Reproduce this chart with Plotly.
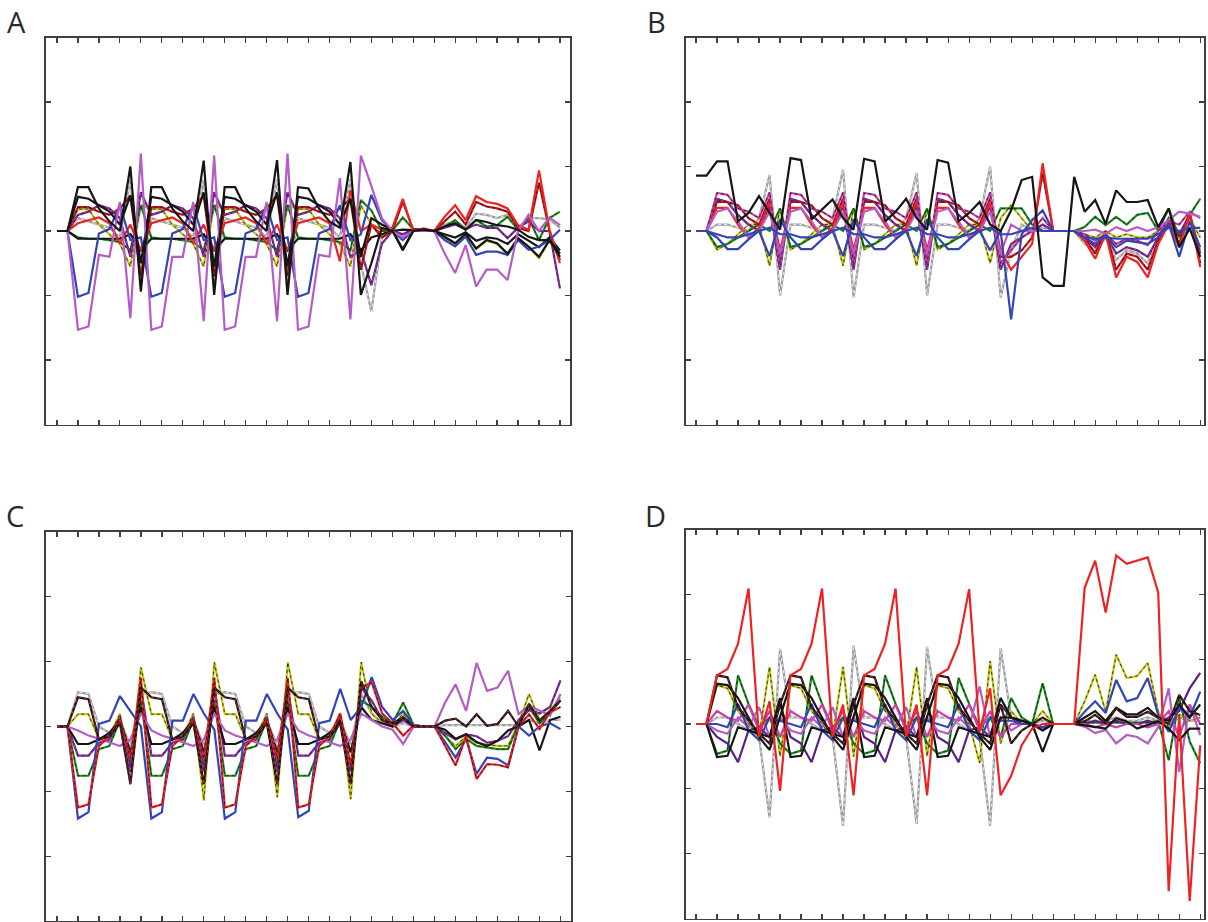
import plotly.graph_objects as go

# ---------------- data ----------------
X_POS = [1.0, 1.5, 2.0, 2.5, 3.0, 3.5, 4.0, 4.5, 5.0, 5.5, 6.0, 6.5, 7.0, 7.5, 8.0, 8.5,
         9.0, 9.5, 10.0, 10.5, 11.0, 11.5, 12.0, 12.5, 13.0, 13.5, 14.0, 14.5, 15.0, 15.5,
         16.0, 16.5, 17.0, 17.5, 18.0, 18.5, 19.0, 19.5, 20.0, 20.5, 21.0, 21.5, 22.0, 22.5,
         23.0, 23.5, 24.0, 24.5, 25.0]
TICKS_X = [1, 2, 3, 4, 5, 6, 7, 8, 9, 10, 11, 12, 13, 14, 15, 16, 17, 18, 19, 20, 21, 22, 23, 24, 25]
TICKS_Y = [-2, -1, 0, 1, 2]
PANEL_LABELS = ["A", "B", "C", "D"]

# Panel A
A_K1 = [0, 0,
        0.68, 0.68, 0.35, 0.15, 0.00, 1.00, -0.94,
        0.68, 0.68, 0.35, 0.15, 0.00, 1.09, -0.99,
        0.68, 0.68, 0.35, 0.15, 0.00, 1.10, -0.99,
        0.68, 0.66, 0.35, 0.15, 0.05, 1.07, -0.99,
        -0.50, 0.05, 0.00, -0.28, 0.00, 0.02, 0.00, 0.07, 0.12, 0.02, 0.17, 0.14, 0.09, 0.07, 0.02, -0.09, -0.14, -0.14, -0.35]
A_K2 = [0, 0,
        0.53, 0.50, 0.40, 0.30, 0.10, 0.55, -0.50,
        0.53, 0.50, 0.40, 0.30, 0.10, 0.60, -0.55,
        0.53, 0.50, 0.40, 0.30, 0.10, 0.60, -0.55,
        0.53, 0.50, 0.40, 0.30, 0.10, 0.50, -0.40,
        0.20, 0.10, 0.02, -0.30, 0.00, 0.02, 0.00, -0.09, -0.19, -0.04, -0.27, -0.14, -0.19, -0.35, -0.11, -0.24, -0.40, -0.14, -0.40]
A_KL = [0, 0,
        -0.12, -0.12, -0.12, -0.12, -0.12, -0.05, -0.30,
        -0.12, -0.12, -0.12, -0.12, -0.12, -0.05, -0.30,
        -0.12, -0.12, -0.12, -0.12, -0.12, -0.05, -0.30,
        -0.12, -0.12, -0.12, -0.12, -0.12, -0.05, -0.30,
        -0.10, -0.05, 0.00, 0.02, 0.02, 0.01, 0.00, -0.05, -0.10, -0.02, -0.15, -0.10, -0.12, -0.20, -0.05, -0.15, -0.25, -0.10, -0.30]
A_DR = [0, 0,
        0.37, 0.37, 0.30, 0.25, 0.35, 0.55, -0.70,
        0.37, 0.37, 0.30, 0.25, 0.35, 0.55, -0.70,
        0.37, 0.37, 0.30, 0.25, 0.35, 0.55, -0.70,
        0.37, 0.37, 0.30, 0.25, 0.35, 0.50, -0.60,
        0.10, -0.10, 0.00, 0.45, 0.02, 0.02, 0.00, 0.15, 0.30, 0.10, 0.45, 0.38, 0.35, 0.30, 0.05, 0.00, 0.75, 0.00, -0.45]
A_Y = [0, 0,
       0.34, 0.34, 0.10, -0.05, -0.20, -0.55, 0.40,
       0.34, 0.34, 0.10, -0.05, -0.20, -0.55, 0.40,
       0.34, 0.34, 0.10, -0.05, -0.20, -0.55, 0.40,
       0.34, 0.34, 0.10, -0.05, -0.20, -0.55, 0.40,
       0.10, -0.05, 0.02, -0.30, 0.00, 0.02, 0.00, -0.10, -0.20, -0.05, -0.28, -0.15, -0.20, -0.37, -0.12, -0.25, -0.42, -0.15, -0.42]
A_G = [0, 0,
       -0.10, -0.12, -0.12, -0.15, -0.17, -0.30, 0.40,
       -0.10, -0.12, -0.12, -0.15, -0.17, -0.30, 0.40,
       -0.10, -0.12, -0.12, -0.15, -0.17, -0.30, 0.40,
       -0.10, -0.12, -0.12, -0.15, -0.17, -0.30, 0.48,
       0.32, 0.00, 0.00, 0.21, 0.03, 0.03, 0.00, 0.07, 0.17, 0.02, 0.17, 0.07, 0.09, 0.22, 0.02, 0.20, -0.14, 0.20, 0.30]
A_B = [0, 0,
       -1.02, -0.96, -0.04, 0.03, 0.40, -0.14, -0.10,
       -1.02, -0.96, -0.04, 0.03, 0.40, -0.14, -0.10,
       -1.02, -0.96, -0.04, 0.03, 0.40, -0.14, -0.10,
       -1.02, -0.96, -0.04, 0.03, 0.40, -0.14, -0.05,
       0.56, 0.17, 0.00, -0.14, 0.00, 0.00, 0.00, -0.14, -0.24, -0.09, -0.37, -0.32, -0.32, -0.37, -0.14, -0.29, -0.24, -0.14, 0.02]
A_P = [0, 0,
       -1.53, -1.48, -0.37, -0.40, 0.45, -1.35, 1.20,
       -1.53, -1.48, -0.40, -0.40, 0.45, -1.40, 1.17,
       -1.53, -1.48, -0.40, -0.40, 0.45, -1.40, 1.20,
       -1.53, -1.48, -0.37, -0.40, 0.82, -1.37, 1.17,
       0.70, 0.20, 0.00, -0.10, 0.00, 0.01, 0.00, -0.35, -0.65, -0.22, -0.86, -0.60, -0.60, -0.76, 0.00, 0.25, 0.00, 0.21, 0.09]
A_R = [0, 0,
       0.12, 0.17, 0.21, 0.12, -0.19, 0.10, -0.30,
       0.12, 0.17, 0.21, 0.12, -0.19, 0.10, -0.30,
       0.12, 0.17, 0.21, 0.12, -0.19, 0.10, -0.30,
       0.12, 0.17, 0.21, 0.12, -0.47, 0.63, 0.00,
       0.10, 0.02, 0.05, 0.50, 0.00, 0.04, 0.00, 0.22, 0.40, 0.17, 0.54, 0.45, 0.42, 0.35, 0.09, 0.02, 0.94, 0.02, -0.50]
A_GR = [0, 0,
        0.20, 0.15, 0.10, 0.05, -0.10, 0.80, -0.80,
        0.20, 0.15, 0.10, 0.05, -0.10, 0.80, -0.80,
        0.20, 0.15, 0.10, 0.05, -0.10, 0.80, -0.80,
        0.20, 0.15, 0.10, 0.05, -0.10, 0.80, -0.50,
        -1.25, -0.10, 0.00, -0.05, 0.02, 0.02, 0.00, 0.10, 0.15, 0.05, 0.27, 0.25, 0.20, 0.25, 0.05, 0.20, 0.20, 0.18, 0.05]
A_DP = [0, 0,
        0.25, 0.30, 0.40, 0.35, 0.20, -0.40, 0.60,
        0.25, 0.30, 0.40, 0.35, 0.20, -0.40, 0.60,
        0.25, 0.30, 0.40, 0.35, 0.20, -0.40, 0.60,
        0.25, 0.30, 0.40, 0.35, 0.20, -0.40, -0.30,
        -0.84, -0.20, 0.00, -0.05, 0.02, 0.02, 0.00, 0.05, 0.10, 0.03, 0.10, 0.05, 0.05, -0.11, 0.05, 0.15, 0.00, 0.00, -0.89]

# Panel B
B_K1 = [0.86, 0.86,
        1.08, 1.08, 0.15, 0.28, 0.54, 0.28, 0.02,
        1.13, 1.10, 0.18, 0.33, 0.49, 0.20, 0.02,
        1.12, 1.08, 0.15, 0.30, 0.50, 0.20, 0.02,
        1.10, 1.06, 0.15, 0.28, 0.45, 0.10, 0.00,
        0.32, 0.79, 0.84, -0.72, -0.85, -0.85, 0.84, 0.30, 0.48, 0.11, 0.63, 0.45, 0.45, 0.48, 0.06, 0.35, -0.25, 0.04, -0.40]
B_GR = [0, 0,
        0.10, 0.10, 0.05, 0.00, 0.20, 0.87, -1.00,
        0.10, 0.10, 0.05, 0.00, 0.20, 0.95, -1.03,
        0.10, 0.10, 0.05, 0.00, 0.20, 0.90, -1.00,
        0.10, 0.10, 0.05, 0.00, 0.20, 1.00, -1.03,
        -0.30, 0.10, 0.00, 0.05, 0.00, 0.00, 0.00, -0.20, -0.30, -0.10, -0.45, -0.30, -0.35, -0.50, -0.10, 0.10, -0.10, 0.20, -0.30]
B_B = [0, 0,
       -0.10, -0.28, -0.28, -0.13, 0.00, -0.39, 0.18,
       -0.10, -0.28, -0.28, -0.13, 0.00, -0.39, 0.18,
       -0.10, -0.28, -0.28, -0.13, 0.00, -0.39, 0.18,
       -0.10, -0.28, -0.28, -0.13, 0.00, -0.30, 0.00,
       -1.37, -0.05, 0.17, 0.32, 0.00, 0.00, 0.00, -0.10, -0.20, -0.07, -0.25, -0.15, -0.17, -0.20, -0.10, 0.11, -0.40, 0.15, -0.25]
B_B2 = [0, 0,
        -0.05, -0.10, -0.10, -0.05, 0.00, 0.05, -0.05,
        -0.05, -0.10, -0.10, -0.05, 0.00, 0.05, -0.05,
        -0.05, -0.10, -0.10, -0.05, 0.00, 0.05, -0.05,
        -0.05, -0.10, -0.10, -0.05, 0.00, 0.05, -0.05,
        -0.05, 0.00, 0.05, 0.00, 0.00, 0.00, 0.00, -0.10, -0.12, -0.10, -0.12, -0.12, -0.12, -0.12, -0.05, 0.05, 0.00, 0.05, 0.05]
B_MG = [0, 0,
        0.59, 0.56, 0.35, 0.30, 0.20, 0.60, -0.50,
        0.59, 0.56, 0.35, 0.30, 0.20, 0.60, -0.50,
        0.59, 0.56, 0.35, 0.30, 0.20, 0.60, -0.50,
        0.59, 0.56, 0.35, 0.30, 0.20, 0.60, -0.50,
        -0.30, -0.10, 0.00, 0.20, 0.00, 0.00, 0.00, -0.05, -0.15, -0.05, -0.20, -0.12, -0.15, -0.22, 0.00, 0.15, 0.10, 0.30, 0.20]
B_DR = [0, 0,
        0.45, 0.45, 0.40, 0.20, 0.10, 0.50, -0.40,
        0.45, 0.45, 0.40, 0.20, 0.10, 0.50, -0.40,
        0.45, 0.45, 0.40, 0.20, 0.10, 0.50, -0.40,
        0.45, 0.45, 0.40, 0.20, 0.10, 0.50, -0.40,
        -0.40, -0.30, -0.10, 0.90, 0.00, 0.00, 0.00, -0.10, -0.35, 0.00, -0.60, -0.35, -0.40, -0.60, -0.15, 0.15, -0.20, 0.30, -0.50]
B_R = [0, 0,
       0.36, 0.36, 0.10, -0.10, 0.05, 0.45, -0.30,
       0.36, 0.36, 0.10, -0.10, 0.05, 0.45, -0.30,
       0.36, 0.36, 0.10, -0.10, 0.05, 0.45, -0.30,
       0.36, 0.36, 0.10, -0.10, 0.05, 0.45, -0.30,
       -0.60, -0.40, -0.20, 1.05, 0.00, 0.00, 0.00, -0.15, -0.43, -0.04, -0.72, -0.40, -0.48, -0.72, -0.20, 0.11, -0.25, 0.27, -0.56]
B_Y = [0, 0,
       -0.29, -0.20, -0.05, 0.10, 0.10, -0.54, 0.35,
       -0.29, -0.20, -0.05, 0.10, 0.10, -0.54, 0.35,
       -0.29, -0.20, -0.05, 0.10, 0.10, -0.54, 0.35,
       -0.29, -0.20, -0.05, 0.10, 0.10, -0.50, 0.20,
       0.40, 0.20, 0.00, 0.00, 0.00, 0.00, 0.00, -0.05, -0.10, 0.00, -0.10, -0.05, -0.10, -0.10, 0.00, 0.10, -0.10, 0.20, -0.10]
B_G = [0, 0,
       -0.25, -0.20, -0.10, 0.00, 0.10, 0.00, 0.35,
       -0.25, -0.20, -0.10, 0.00, 0.10, 0.00, 0.35,
       -0.25, -0.20, -0.10, 0.00, 0.10, 0.00, 0.35,
       -0.25, -0.20, -0.10, 0.00, 0.10, 0.00, 0.35,
       0.35, 0.35, 0.10, 0.00, 0.00, 0.00, 0.00, 0.06, 0.22, 0.09, 0.22, 0.10, 0.25, 0.28, 0.00, 0.35, -0.10, 0.25, 0.50]
B_P = [0, 0,
       0.30, 0.35, 0.15, -0.10, 0.00, 0.30, -0.35,
       0.30, 0.35, 0.15, -0.10, 0.00, 0.30, -0.35,
       0.30, 0.35, 0.15, -0.10, 0.00, 0.30, -0.35,
       0.30, 0.35, 0.15, -0.10, 0.00, 0.30, -0.35,
       0.10, 0.00, 0.00, 0.00, 0.00, 0.00, 0.00, 0.00, 0.02, -0.04, 0.06, 0.00, 0.06, 0.00, 0.06, 0.17, 0.30, 0.27, 0.22]
B_DP = [0, 0,
        0.50, 0.45, 0.25, 0.10, 0.00, 0.40, -0.60,
        0.50, 0.45, 0.25, 0.10, 0.00, 0.40, -0.60,
        0.50, 0.45, 0.25, 0.10, 0.00, 0.40, -0.60,
        0.50, 0.45, 0.25, 0.10, 0.00, 0.40, -0.60,
        -0.20, -0.10, 0.00, 0.10, 0.00, 0.00, 0.00, -0.10, -0.25, -0.05, -0.35, -0.25, -0.30, -0.40, -0.10, 0.20, -0.05, 0.25, -0.35]

# Panel C
C_B = [0, 0,
       -1.42, -1.32, 0.04, 0.09, 0.47, 0.24, 0.00,
       -1.42, -1.32, 0.09, 0.09, 0.50, 0.20, -0.05,
       -1.42, -1.32, 0.09, 0.09, 0.50, 0.20, -0.05,
       -1.40, -1.30, 0.05, 0.09, 0.58, 0.10, 0.30,
       0.76, 0.30, 0.10, 0.24, 0.02, 0.00, 0.00, -0.24, -0.48, -0.19, -0.73, -0.48, -0.50, -0.60, 0.00, -0.14, 0.00, 0.05, -0.04]
C_R = [0, 0,
       -1.25, -1.20, -0.30, -0.15, 0.10, -0.50, 0.75,
       -1.25, -1.20, -0.30, -0.15, 0.10, -0.50, 0.75,
       -1.25, -1.20, -0.30, -0.15, 0.10, -0.50, 0.75,
       -1.25, -1.20, -0.30, -0.15, 0.20, -0.60, 0.60,
       0.68, 0.20, 0.05, -0.14, 0.02, 0.00, 0.00, -0.30, -0.60, -0.15, -0.81, -0.58, -0.59, -0.63, 0.00, 0.19, -0.04, 0.22, 0.30]
C_K1 = [0, 0,
        0.45, 0.42, -0.20, -0.15, 0.05, -0.89, 0.60,
        0.45, 0.42, -0.20, -0.15, 0.05, -0.89, 0.60,
        0.45, 0.42, -0.20, -0.15, 0.05, -0.89, 0.60,
        0.45, 0.42, -0.20, -0.15, 0.05, -0.89, 0.70,
        0.30, 0.10, 0.05, 0.14, 0.00, 0.00, 0.00, 0.09, 0.12, 0.00, 0.19, 0.01, 0.04, 0.24, 0.00, 0.35, 0.09, 0.24, 0.40]
C_GR = [0, 0,
        0.53, 0.50, 0.00, -0.10, 0.10, -0.30, 0.50,
        0.53, 0.50, 0.00, -0.10, 0.10, -0.30, 0.50,
        0.53, 0.50, 0.00, -0.10, 0.10, -0.30, 0.50,
        0.53, 0.50, 0.00, -0.10, 0.10, -0.30, 0.50,
        0.20, 0.05, 0.00, 0.05, 0.00, 0.00, 0.00, 0.02, 0.02, 0.02, 0.02, 0.02, 0.02, 0.02, 0.02, 0.10, 0.05, 0.10, 0.10]
C_Y = [0, 0,
       0.19, 0.19, -0.20, -0.15, 0.20, -0.70, 0.91,
       0.19, 0.19, -0.20, -0.15, 0.20, -1.14, 0.99,
       0.19, 0.19, -0.20, -0.15, 0.20, -1.09, 0.99,
       0.19, 0.19, -0.20, -0.15, 0.20, -1.12, 0.99,
       0.20, 0.05, 0.00, 0.20, 0.00, 0.00, 0.00, -0.15, -0.30, -0.15, -0.25, -0.28, -0.30, -0.30, 0.05, 0.50, 0.10, 0.25, 0.45]
C_G = [0, 0,
       -0.76, -0.76, -0.35, -0.30, 0.10, -0.60, 0.40,
       -0.76, -0.76, -0.35, -0.30, 0.10, -0.60, 0.40,
       -0.76, -0.76, -0.35, -0.30, 0.10, -0.60, 0.40,
       -0.76, -0.76, -0.35, -0.30, 0.10, -0.60, 0.40,
       0.30, 0.15, 0.05, 0.37, 0.02, 0.00, 0.00, -0.14, -0.35, -0.19, -0.30, -0.32, -0.35, -0.35, 0.04, 0.30, 0.05, 0.20, 0.40]
C_DP = [0, 0,
        -0.45, -0.45, -0.25, -0.20, 0.15, -0.70, 0.60,
        -0.45, -0.45, -0.25, -0.20, 0.15, -0.70, 0.60,
        -0.45, -0.45, -0.25, -0.20, 0.15, -0.70, 0.60,
        -0.45, -0.45, -0.25, -0.20, 0.15, -0.70, 0.60,
        0.40, 0.10, 0.00, 0.10, 0.00, 0.00, 0.00, -0.10, -0.20, -0.12, -0.15, -0.25, -0.22, -0.15, 0.10, 0.25, 0.20, 0.30, 0.71]
C_K2 = [0, 0,
        -0.27, -0.27, -0.20, -0.10, 0.10, -0.40, 0.30,
        -0.27, -0.27, -0.20, -0.10, 0.10, -0.40, 0.30,
        -0.27, -0.27, -0.20, -0.10, 0.10, -0.40, 0.30,
        -0.27, -0.27, -0.20, -0.10, 0.10, -0.40, 0.30,
        0.10, 0.05, 0.00, 0.14, 0.00, 0.00, 0.00, -0.05, -0.19, -0.12, -0.24, -0.30, -0.22, -0.06, 0.00, 0.10, -0.37, 0.10, 0.15]
C_P = [0, 0,
       -0.06, -0.14, -0.19, -0.25, -0.30, -0.20, 0.20,
       -0.06, -0.14, -0.19, -0.25, -0.30, -0.20, 0.20,
       -0.06, -0.14, -0.19, -0.25, -0.30, -0.20, 0.20,
       -0.06, -0.14, -0.19, -0.25, -0.30, -0.20, 0.20,
       0.10, 0.00, -0.05, -0.27, 0.00, 0.00, 0.00, 0.37, 0.65, 0.24, 0.98, 0.55, 0.60, 0.86, 0.19, 0.32, 0.24, 0.17, 0.50]

# Panel D
D_R = [0, 0,
       0.75, 0.85, 1.24, 2.09, -0.20, 0.35, -1.03,
       0.75, 0.85, 1.24, 2.09, -0.20, 0.30, -1.10,
       0.75, 0.85, 1.24, 2.09, -0.20, 0.30, -1.10,
       0.75, 0.85, 1.24, 2.08, -0.12, 0.55, -1.10,
       -0.80, -0.33, -0.07, 0.00, 0.00, 0.00, 0.00, 2.10, 2.52, 1.72, 2.60, 2.47, 2.52, 2.57, 2.03, -2.58, 0.14, -2.73, -0.33]
D_K1 = [0, 0,
        0.75, 0.72, 0.26, 0.05, -0.15, -0.30, 0.30,
        0.75, 0.72, 0.26, 0.05, -0.15, -0.30, 0.30,
        0.75, 0.72, 0.26, 0.05, -0.15, -0.30, 0.30,
        0.75, 0.72, 0.26, 0.05, -0.15, -0.30, 0.30,
        -0.30, -0.10, 0.00, 0.10, 0.00, 0.00, 0.00, 0.04, 0.14, 0.01, 0.24, 0.11, 0.11, 0.19, 0.10, 0.00, 0.45, 0.20, 0.14]
D_K2 = [0, 0,
        0.62, 0.60, 0.40, 0.10, -0.20, -0.40, 0.10,
        0.62, 0.60, 0.40, 0.10, -0.20, -0.40, 0.10,
        0.62, 0.60, 0.40, 0.10, -0.20, -0.40, 0.10,
        0.62, 0.60, 0.40, 0.10, -0.20, -0.40, 0.10,
        0.10, 0.05, 0.00, -0.10, 0.00, 0.00, 0.00, 0.10, 0.20, 0.05, 0.25, 0.15, 0.15, 0.25, 0.10, 0.05, 0.30, 0.10, 0.30]
D_G = [0, 0,
       -0.46, -0.41, 0.75, 0.31, -0.05, 0.10, -0.30,
       -0.46, -0.41, 0.75, 0.31, -0.05, 0.10, -0.30,
       -0.46, -0.41, 0.75, 0.31, -0.05, 0.10, -0.30,
       -0.46, -0.41, 0.71, 0.31, -0.05, 0.10, -0.20,
       0.40, 0.10, 0.00, 0.63, 0.00, 0.00, 0.00, 0.02, 0.02, 0.02, 0.02, 0.02, 0.02, 0.02, 0.05, -0.56, 0.40, -0.27, -0.61]
D_KL = [0, 0,
        -0.51, -0.49, -0.05, -0.10, -0.15, -0.20, 0.40,
        -0.51, -0.49, -0.05, -0.10, -0.15, -0.20, 0.40,
        -0.51, -0.49, -0.05, -0.10, -0.15, -0.20, 0.40,
        -0.51, -0.49, -0.05, -0.10, -0.15, -0.20, 0.40,
        0.10, 0.05, 0.00, -0.43, 0.00, 0.00, 0.00, -0.02, -0.04, -0.07, 0.09, 0.04, -0.07, -0.02, 0.04, -0.07, -0.25, -0.07, -0.07]
D_DP = [0, 0,
        -0.20, -0.30, -0.59, -0.10, -0.05, -0.20, 0.30,
        -0.20, -0.30, -0.59, -0.10, -0.05, -0.20, 0.30,
        -0.20, -0.30, -0.59, -0.10, -0.05, -0.20, 0.30,
        -0.20, -0.30, -0.59, -0.10, -0.05, -0.20, 0.30,
        0.10, 0.00, 0.00, -0.05, 0.00, 0.00, 0.00, 0.00, 0.05, 0.00, 0.05, 0.00, 0.00, 0.05, 0.00, 0.10, 0.20, 0.55, 0.79]
D_Y = [0, 0,
       0.60, 0.55, 0.20, 0.00, -0.20, 0.88, -0.50,
       0.60, 0.55, 0.20, 0.00, -0.20, 0.88, -0.50,
       0.60, 0.55, 0.20, 0.00, -0.20, 0.88, -0.50,
       0.60, 0.55, 0.20, 0.00, -0.60, 0.97, -0.30,
       0.20, 0.00, 0.00, 0.20, 0.00, 0.00, 0.00, 0.35, 0.76, 0.19, 1.07, 0.71, 0.74, 0.94, 0.19, -0.05, 0.15, 0.05, 0.10]
D_GR = [0, 0,
        0.10, 0.10, 0.00, -0.10, -0.20, -1.44, 1.16,
        0.10, 0.10, 0.00, -0.10, -0.20, -1.57, 1.21,
        0.10, 0.10, 0.00, -0.10, -0.20, -1.54, 1.19,
        0.10, 0.10, 0.00, -0.10, -0.20, -1.57, 1.17,
        0.10, 0.00, 0.00, 0.05, 0.00, 0.00, 0.00, 0.05, 0.05, 0.05, 0.10, 0.05, 0.05, 0.10, 0.05, 0.00, 0.10, 0.05, 0.05]
D_B = [0, 0,
       0.00, -0.05, 0.31, -0.10, -0.25, 0.10, 0.05,
       0.00, -0.05, 0.31, -0.10, -0.25, 0.10, 0.05,
       0.00, -0.05, 0.31, -0.10, -0.25, 0.10, 0.05,
       0.00, -0.05, 0.31, -0.10, -0.25, 0.10, 0.05,
       0.05, 0.00, 0.00, -0.05, 0.00, 0.00, 0.00, 0.19, 0.35, 0.17, 0.68, 0.35, 0.40, 0.71, 0.14, -0.12, 0.25, 0.10, 0.50]
D_P = [0, 0,
       -0.10, -0.15, 0.10, -0.05, 0.26, -0.20, 0.10,
       -0.10, -0.15, 0.10, -0.05, 0.26, -0.20, 0.10,
       -0.10, -0.15, 0.10, -0.05, 0.26, -0.20, 0.10,
       -0.10, -0.15, 0.10, -0.05, 0.58, -0.20, 0.10,
       -0.10, 0.00, 0.00, -0.05, 0.00, 0.00, 0.00, -0.04, -0.14, -0.09, -0.30, -0.17, -0.20, -0.30, -0.05, 0.55, -0.74, 0.30, -0.17]
D_MG = [0, 0,
        0.20, 0.10, 0.05, 0.30, -0.10, 0.20, -0.20,
        0.20, 0.10, 0.05, 0.30, -0.10, 0.20, -0.20,
        0.20, 0.10, 0.05, 0.30, -0.10, 0.20, -0.20,
        0.20, 0.10, 0.05, 0.30, -0.10, 0.20, -0.20,
        0.00, 0.00, 0.00, -0.10, 0.00, 0.00, 0.00, 0.00, -0.05, 0.00, -0.05, 0.00, 0.00, -0.05, 0.00, 0.20, -0.20, 0.30, 0.00]

# ---------------- styles ----------------
COL = {
    "black": "#151515", "red": "#ee2222", "blue": "#3344b8", "green": "#1f8c22",
    "violet": "#b65cc6", "yellow": "#c8c81c", "gray": "#9c9c9c", "dpurple": "#5e1f80",
    "dred": "#c01818", "magenta": "#cc3fa8",
}
# (values, base colour, overlay dash colour or None)
PANELS = [
    ("x", "y", [(A_GR, "gray", "#ffffff"), (A_Y, "yellow", "#151515"), (A_G, "green", "#151515"),
                (A_DP, "dpurple", "#cc3fa8"), (A_KL, "black", None), (A_DR, "dred", "#151515"),
                (A_R, "red", None), (A_B, "blue", None), (A_K2, "black", None),
                (A_P, "violet", None), (A_K1, "black", None)]),
    ("x2", "y2", [(B_GR, "gray", "#ffffff"), (B_Y, "yellow", "#151515"), (B_G, "green", "#151515"),
                  (B_DP, "dpurple", "#cc3fa8"), (B_DR, "dred", "#151515"), (B_R, "red", None),
                  (B_MG, "magenta", "#151515"), (B_P, "violet", None), (B_B2, "blue", None),
                  (B_B, "blue", None), (B_K1, "black", None)]),
    ("x3", "y3", [(C_GR, "gray", "#ffffff"), (C_Y, "yellow", "#151515"), (C_G, "green", "#151515"),
                  (C_DP, "dpurple", "#cc3fa8"), (C_K2, "black", None), (C_P, "violet", None),
                  (C_B, "blue", None), (C_R, "red", "#151515"), (C_K1, "black", "#ee2222")]),
    ("x4", "y4", [(D_GR, "gray", "#ffffff"), (D_Y, "yellow", "#151515"), (D_G, "green", "#151515"),
                  (D_DP, "dpurple", None), (D_MG, "magenta", None), (D_P, "violet", None),
                  (D_B, "blue", None), (D_KL, "black", None), (D_K2, "black", None),
                  (D_K1, "black", "#ee2222"), (D_R, "red", None)]),
]

fig = go.Figure()
for xa, ya, series in PANELS:
    for vals, cname, ov in series:
        if len(vals) != len(X_POS):
            raise ValueError("bad length %d" % len(vals))
        fig.add_trace(go.Scatter(x=X_POS, y=vals, mode="lines", xaxis=xa, yaxis=ya,
                                 line=dict(color=COL[cname], width=2.2),
                                 hoverinfo="skip", showlegend=False))
        if ov:
            fig.add_trace(go.Scatter(x=X_POS, y=vals, mode="lines", xaxis=xa, yaxis=ya,
                                     line=dict(color=ov, width=1.0, dash="3px,3px"),
                                     opacity=0.8, hoverinfo="skip", showlegend=False))

W, H = 1208, 922
def xdom(l, r):
    return [l / W, r / W]
def ydom(t, b):
    return [1 - b / H, 1 - t / H]

axis_common = dict(showline=True, linecolor="#404040", linewidth=1.6, mirror="ticks",
                   ticks="inside", ticklen=5, tickwidth=1.2, tickcolor="#404040",
                   showticklabels=False, showgrid=False, zeroline=False)

layout = dict(width=W, height=H, margin=dict(l=0, r=0, t=0, b=0),
              paper_bgcolor="white", plot_bgcolor="white", showlegend=False,
              hovermode=False)

geo = [  # x-domain px, y-domain px, x range
    ((46, 570), (37.5, 424.5), [0.475, 25.48]),
    ((686, 1204), (37.5, 424.5), [0.524, 25.18]),
    ((46, 571), (532, 921), [0.475, 25.5]),
    ((686, 1204), (529.5, 918.5), [0.524, 25.18]),
]
for k, ((xl, xr), (yt, yb), xr_rng) in enumerate(geo):
    sfx = "" if k == 0 else str(k + 1)
    layout["xaxis" + sfx] = dict(axis_common, domain=xdom(xl, xr), range=xr_rng,
                                 tickmode="array", tickvals=TICKS_X,
                                 anchor="y" + sfx)
    layout["yaxis" + sfx] = dict(axis_common, domain=ydom(yt, yb), range=[-3, 3],
                                 tickmode="array", tickvals=TICKS_Y,
                                 anchor="x" + sfx)

label_pos = [(16, 21), (656, 21), (15, 515), (655, 515)]
layout["annotations"] = [
    dict(text=lab, x=px / W, y=1 - py / H, xref="paper", yref="paper",
         xanchor="center", yanchor="middle", showarrow=False,
         font=dict(family="Open Sans, Noto Sans, sans-serif", size=29, color="#2a2a2a"))
    for lab, (px, py) in zip(PANEL_LABELS, label_pos)
]

fig.update_layout(**layout)
fig.write_html("out.html", config={"displayModeBar": False, "staticPlot": True},
               post_script="document.body.style.margin='0px';document.body.style.padding='0px';document.body.style.overflow='hidden';")
